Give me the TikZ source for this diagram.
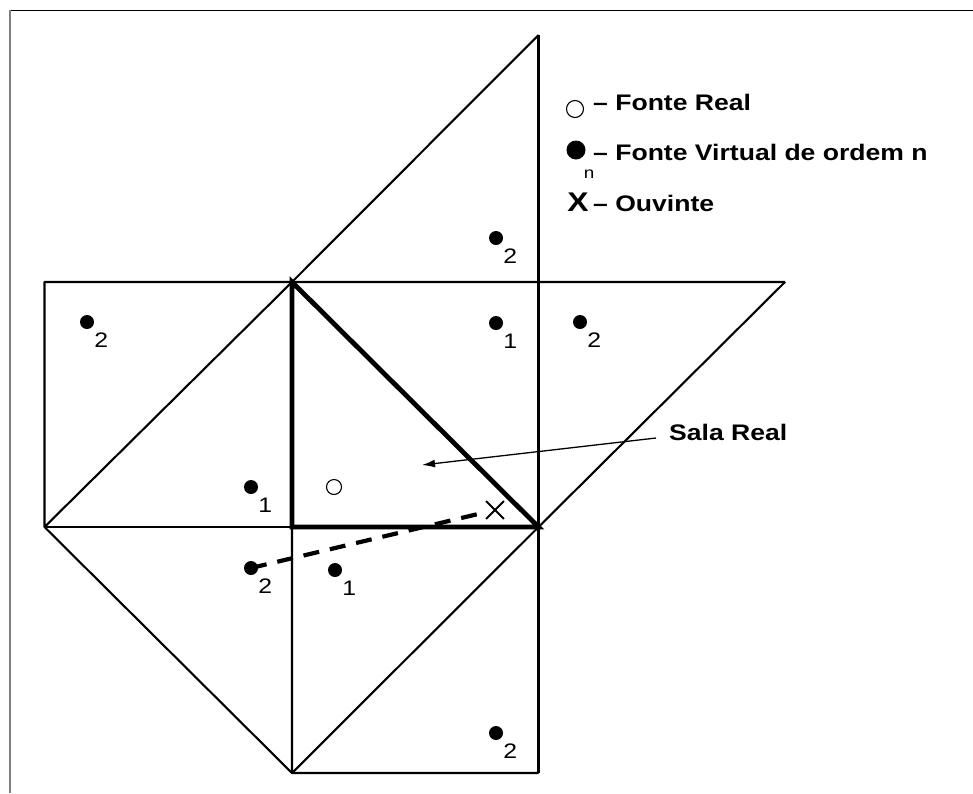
\documentclass[tikz,border=0pt]{standalone}
\usepackage{fontspec}
\setmainfont{Liberation Sans}[FakeStretch=1.18]
\usetikzlibrary{arrows.meta,calc,positioning,shapes.misc}
\tikzset{wall/.style={line width=2.1pt,line join=round},room/.style={line width=4.8pt,line join=miter},virt/.style={circle,fill=black,minimum size=14pt,inner sep=0pt},real/.style={circle,draw,line width=1.1pt,minimum size=15pt,inner sep=0pt},num/.style={font=\fontsize{21}{24}\selectfont},ord/.style={label={[num,anchor=north west,inner sep=0pt,xshift=2pt,yshift=-6pt]south east:#1}},txt/.style={font=\fontsize{22.5}{26}\selectfont\bfseries,inner sep=0pt},listener/.style={cross out,draw,line width=1.8pt,minimum size=16pt,inner sep=0pt},ray/.style={line width=4.2pt,dash pattern=on 16pt off 11pt},pointer/.style={-{Latex[length=13pt,width=8pt]},line width=1.3pt}}
\begin{document}
\begin{tikzpicture}[x=1pt,y=-1pt]
      \useasboundingbox (0,0) rectangle (973,793);
      \draw[line width=1.6pt] (10,10.5) -- (973,10.5);
      \draw[gray,line width=2pt] (9.5,10) -- (9.5,793);
      % corners of the unfolded rooms
      \coordinate (top) at (538.5,35);
      \coordinate (nw) at (44.5,282);\coordinate (c1) at (292,282);\coordinate (ee) at (785,282);
      \coordinate (sw) at (44.5,527);\coordinate (c2) at (292,527);\coordinate (c3) at (538.5,527);
      \coordinate (b1) at (292,773);\coordinate (b2) at (538.5,773);
      \draw[wall] (nw) -- (ee);\draw[wall] (top) -- (b2);\draw[wall] (c1) -- (top);
      \draw[wall] (ee) -- (c3);\draw[wall] (c1) -- (sw) -- (nw) -- (ee);
      \draw[wall] (sw) -- (c3);\draw[wall] (sw) -- (b1) -- (b2);
      \draw[wall] (c2) -- (b1) -- (c3);
      \draw[room] (c1) -- (c2) -- (c3) -- cycle;
      % sources
      \node[virt,ord=2] (v2a) at (496,238) {};
      \node[virt,ord=2] (v2b) at (87,322) {};
      \node[virt,ord=1] (v1a) at (496,323) {};
      \node[virt,ord=2] (v2c) at (580,322) {};
      \node[virt,ord=1] (v1b) at (251,487) {};
      \node[real] (src) at (334,487) {};
      \node[virt,ord=2] (v2d) at (251,568) {};
      \node[virt,ord=1] (v1c) at (335,570) {};
      \node[virt,ord=2] (v2e) at (496,733) {};
      \node[listener] (ouv) at (495,510) {};
      \draw[ray] (v2d.center) -- (ouv);
      % legend
      \node[real,minimum size=17pt] (lreal) at (575,109) {};
      \node[txt,anchor=base west] (lrtxt) at (593,110) {– Fonte Real};
      \node[virt,minimum size=19pt] (lvirt) at (576,150) {};
      \node[inner sep=0pt,font=\fontsize{16}{18}\selectfont] (ln) at (589,174) {n};
      \node[txt,anchor=base west] (lvtxt) at (593,160) {– Fonte Virtual de ordem n};
      \node[txt,font=\fontsize{27}{30}\selectfont\bfseries] (lx) at (578,202) {X};
      \node[txt,anchor=base west] (lxtxt) at (593,211) {– Ouvinte};
      \node[txt,anchor=west] (sala) at (669,432) {Sala Real};
      \coordinate (inside) at (422,465);
      \draw[pointer] ([xshift=-13pt,yshift=-6pt]sala.west) -- (inside);
    \end{tikzpicture}
\end{document}
